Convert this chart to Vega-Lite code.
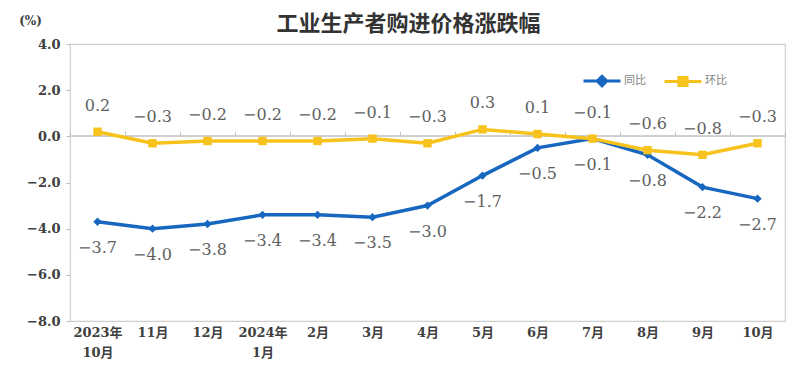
{
  "$schema": "https://vega.github.io/schema/vega-lite/v6.json",
  "width": 715,
  "height": 277,
  "autosize": {"type": "none"},
  "padding": {"left": 70, "top": 44, "right": 15, "bottom": 54},
  "background": "white",
  "title": {
    "text": "工业生产者购进价格涨跌幅",
    "font": "Noto Sans CJK SC",
    "fontSize": 22,
    "fontWeight": "bold",
    "color": "#333333",
    "anchor": "middle",
    "dx": -19,
    "offset": -22
  },
  "config": {
    "view": {"stroke": "#cfcfcf", "strokeWidth": 1.2},
    "axis": {"labelFont": "DejaVu Serif, Noto Sans CJK SC", "labelFontWeight": "bold", "labelColor": "#404040", "labelFontSize": 13}
  },
  "data": {
    "values": [
      {"month": "2023年 10月", "series": "同比", "value": -3.7},
      {"month": "11月", "series": "同比", "value": -4.0},
      {"month": "12月", "series": "同比", "value": -3.8},
      {"month": "2024年 1月", "series": "同比", "value": -3.4},
      {"month": "2月", "series": "同比", "value": -3.4},
      {"month": "3月", "series": "同比", "value": -3.5},
      {"month": "4月", "series": "同比", "value": -3.0},
      {"month": "5月", "series": "同比", "value": -1.7},
      {"month": "6月", "series": "同比", "value": -0.5},
      {"month": "7月", "series": "同比", "value": -0.1},
      {"month": "8月", "series": "同比", "value": -0.8},
      {"month": "9月", "series": "同比", "value": -2.2},
      {"month": "10月", "series": "同比", "value": -2.7},
      {"month": "2023年 10月", "series": "环比", "value": 0.2},
      {"month": "11月", "series": "环比", "value": -0.3},
      {"month": "12月", "series": "环比", "value": -0.2},
      {"month": "2024年 1月", "series": "环比", "value": -0.2},
      {"month": "2月", "series": "环比", "value": -0.2},
      {"month": "3月", "series": "环比", "value": -0.1},
      {"month": "4月", "series": "环比", "value": -0.3},
      {"month": "5月", "series": "环比", "value": 0.3},
      {"month": "6月", "series": "环比", "value": 0.1},
      {"month": "7月", "series": "环比", "value": -0.1},
      {"month": "8月", "series": "环比", "value": -0.6},
      {"month": "9月", "series": "环比", "value": -0.8},
      {"month": "10月", "series": "环比", "value": -0.3}
    ]
  },
  "encoding": {
    "x": {
      "field": "month",
      "type": "nominal",
      "sort": null,
      "scale": {"paddingInner": 0, "paddingOuter": 0},
      "axis": {
        "title": null,
        "labelAngle": 0,
        "offset": -184.7,
        "domain": false,
        "tickBand": "extent",
        "tickSize": -5,
        "tickColor": "#bfbfbf",
        "labelPadding": 195,
        "labelExpr": "split(datum.label, ' ')",
        "labelLineHeight": 20,
        "labelBaseline": "top"
      }
    },
    "y": {
      "field": "value",
      "type": "quantitative",
      "scale": {"domain": [-8, 4], "nice": false},
      "axis": {
        "values": [-8, -6, -4, -2, 0, 2, 4],
        "format": ".1f",
        "grid": false,
        "domain": false,
        "tickSize": 4,
        "tickColor": "#bfbfbf",
        "labelPadding": 6,
        "title": "(%)",
        "titleAngle": 0,
        "titleX": -40,
        "titleY": -24,
        "titleAlign": "center",
        "titleBaseline": "middle",
        "titleFont": "DejaVu Serif",
        "titleFontSize": 12,
        "titleFontWeight": "bold",
        "titleColor": "#404040"
      }
    }
  },
  "layer": [
    {
      "mark": {"type": "rule", "color": "#cfcfcf", "strokeWidth": 1.2},
      "encoding": {"y": {"datum": 0}, "x": {"value": 0}, "x2": {"value": 715}}
    },
    {
      "mark": {"type": "line", "strokeWidth": 3.5},
      "encoding": {
        "color": {
          "field": "series",
          "type": "nominal",
          "scale": {"domain": ["同比", "环比"], "range": ["#1767c0", "#f8c21c"]},
          "legend": {
            "title": null,
            "orient": "none",
            "direction": "horizontal",
            "legendX": 512,
            "legendY": 17,
            "symbolSize": 1369,
            "symbolStrokeWidth": 3,
            "labelFont": "Noto Sans CJK SC",
            "labelFontSize": 11,
            "labelColor": "#7f7f7f",
            "labelOffset": 2,
            "columnPadding": 12,
            "encode": {
              "symbols": {
                "update": {
                  "shape": {"signal": "datum.value === '同比' ? 'M-1,0H1M0,-0.26L0.26,0L0,0.26L-0.26,0Z' : 'M-1,0H1M-0.22,-0.22H0.22V0.22H-0.22Z'"},
                  "fill": {"signal": "datum.value === '同比' ? '#1767c0' : '#f8c21c'"},
                  "stroke": {"signal": "datum.value === '同比' ? '#1767c0' : '#f8c21c'"},
                  "strokeWidth": {"value": 3}
                }
              }
            }
          }
        }
      }
    },
    {
      "transform": [{"filter": "datum.series === '同比'"}],
      "mark": {"type": "point", "filled": true, "size": 70, "opacity": 1, "shape": "diamond", "color": "#1767c0"}
    },
    {
      "transform": [{"filter": "datum.series === '环比'"}],
      "mark": {"type": "point", "filled": true, "size": 70, "opacity": 1, "shape": "square", "color": "#f8c21c"}
    },
    {
      "transform": [{"filter": "datum.series === '同比'"}],
      "mark": {"type": "text", "dy": 26, "font": "DejaVu Serif", "fontSize": 16, "color": "#5f5f5f"},
      "encoding": {"text": {"field": "value", "type": "quantitative", "format": ".1f"}}
    },
    {
      "transform": [{"filter": "datum.series === '环比'"}],
      "mark": {"type": "text", "dy": -26, "font": "DejaVu Serif", "fontSize": 16, "color": "#5f5f5f"},
      "encoding": {"text": {"field": "value", "type": "quantitative", "format": ".1f"}}
    }
  ]
}
